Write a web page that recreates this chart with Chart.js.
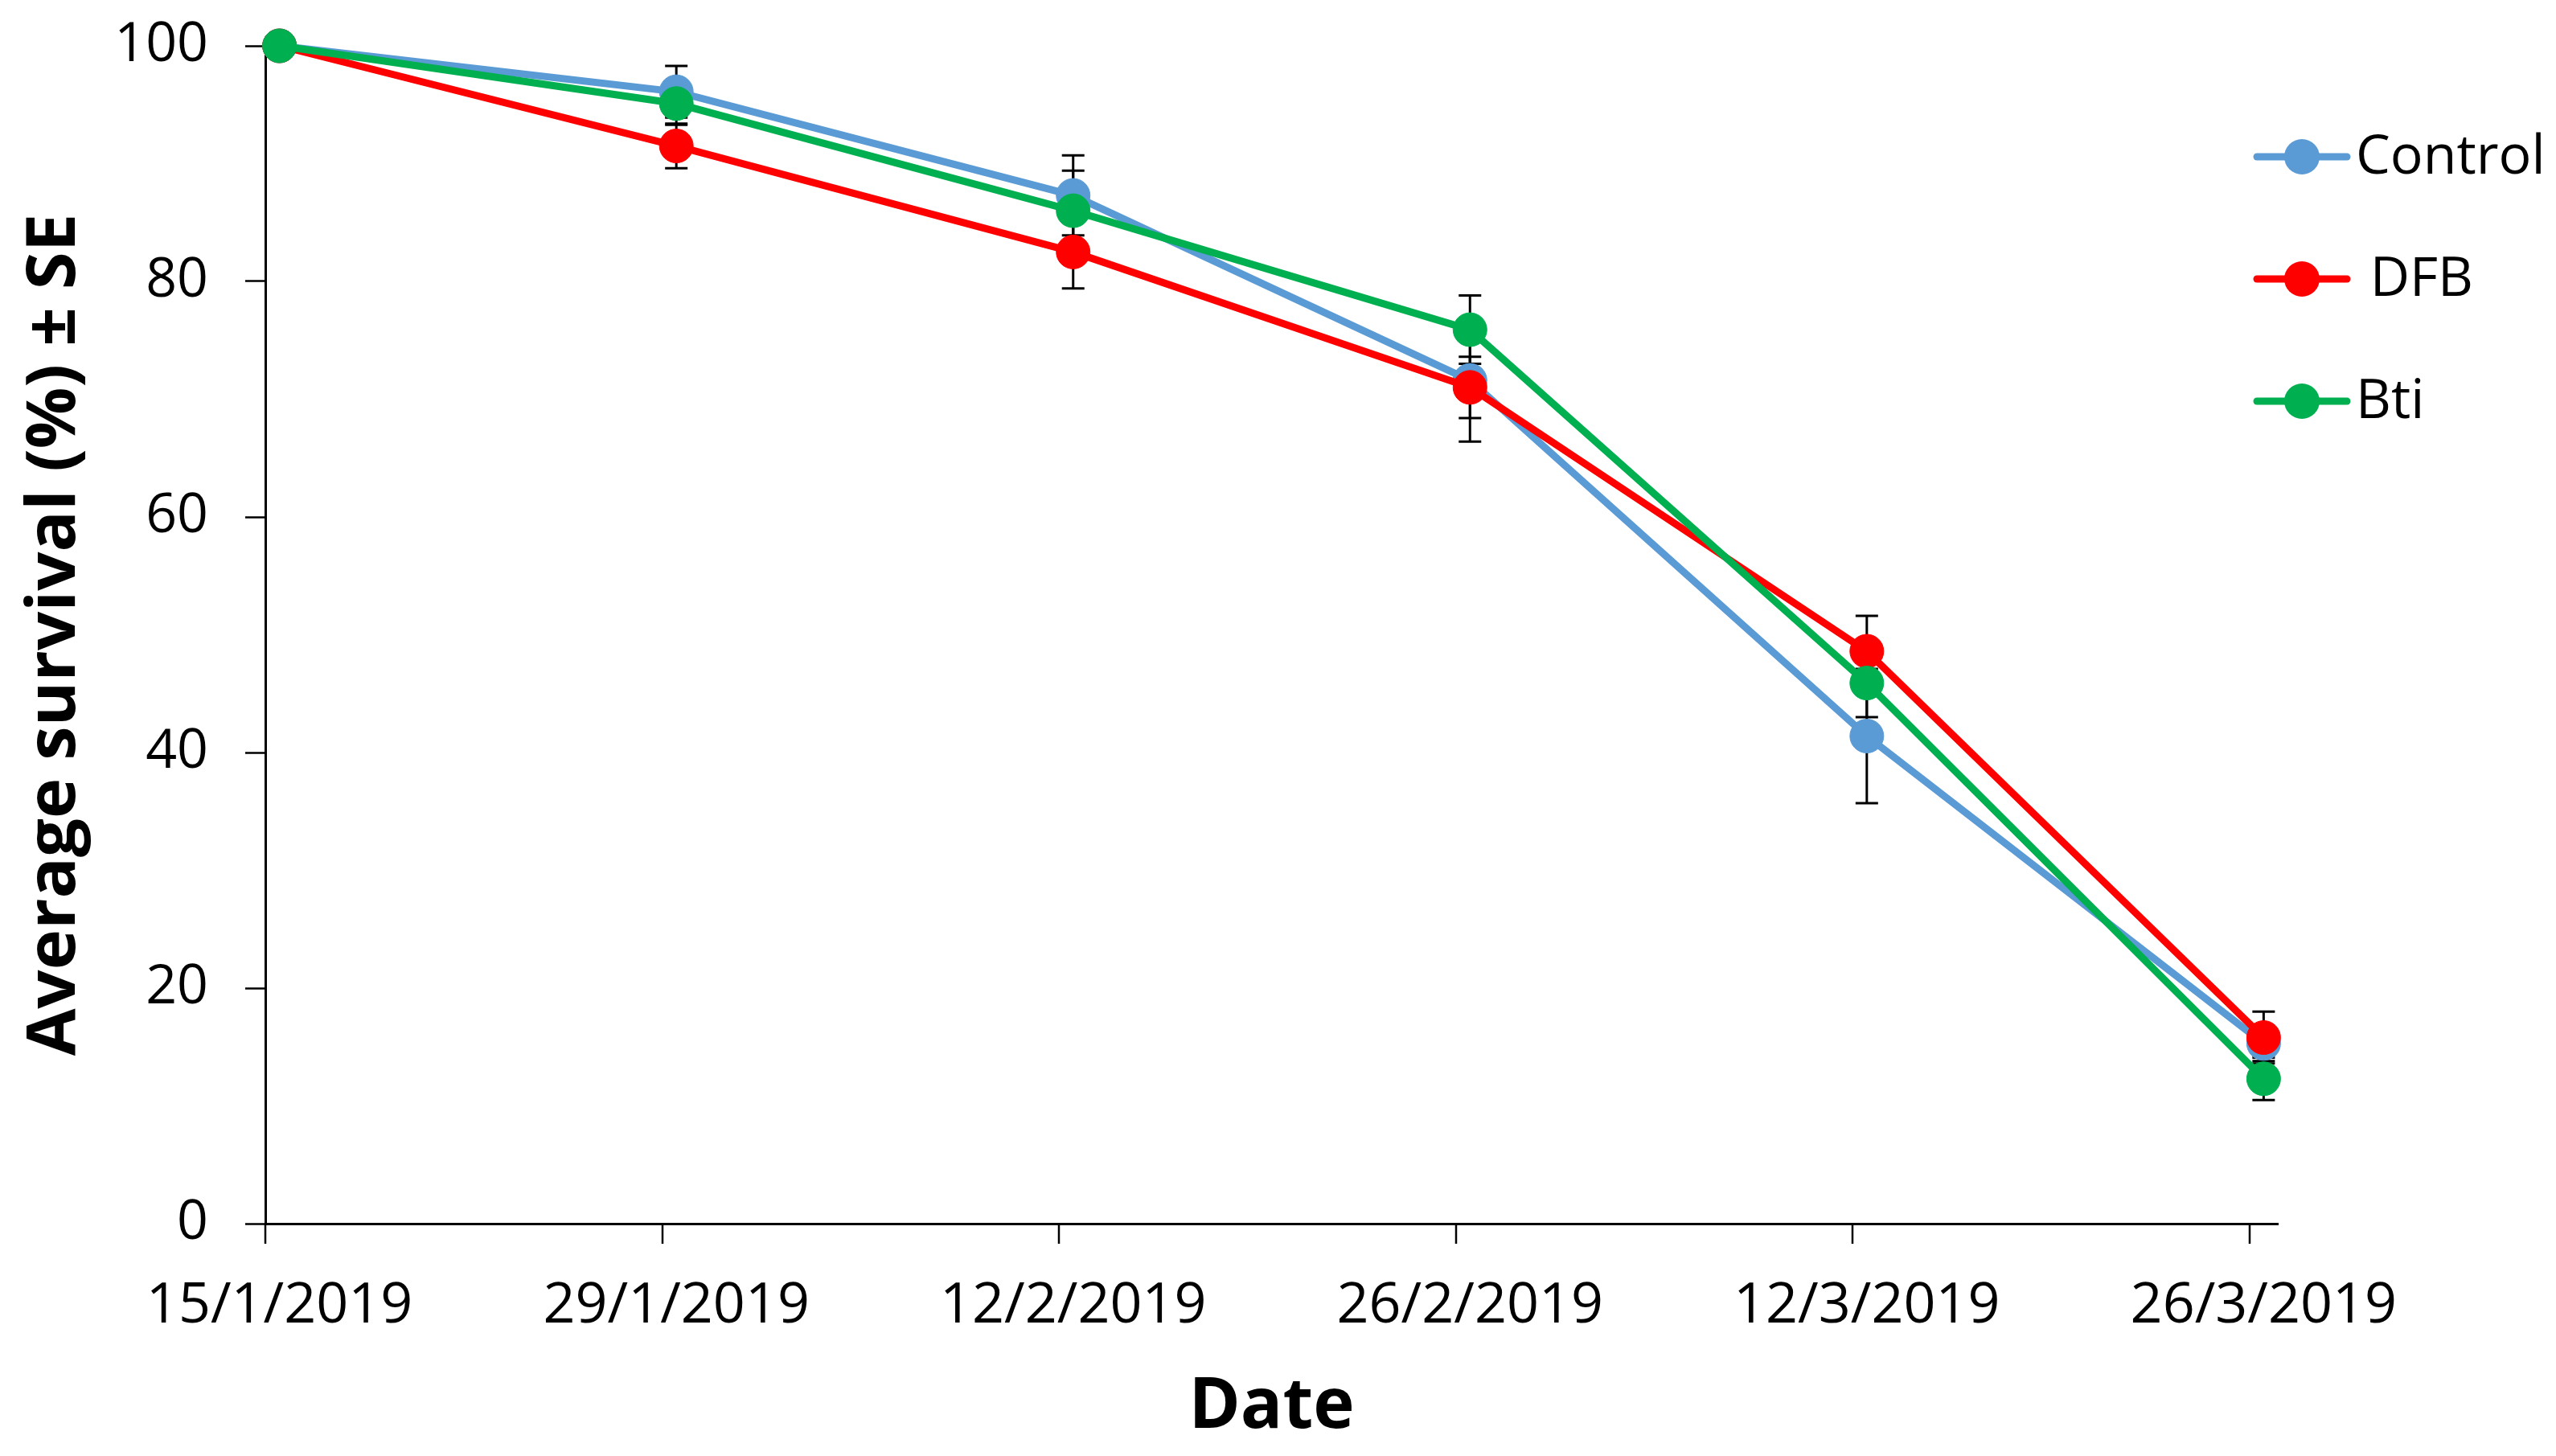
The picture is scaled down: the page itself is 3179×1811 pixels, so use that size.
<!DOCTYPE html>
<html><head><meta charset="utf-8">
<script src="https://cdn.jsdelivr.net/npm/chart.js@4.4.1/dist/chart.umd.min.js"></script>
<style>html,body{margin:0;padding:0;background:#fff;} canvas{display:block;}</style>
</head><body>
<canvas id="c" width="3179" height="1811"></canvas>
<script>
// ---- data ----
const categories = ['15/1/2019','29/1/2019','12/2/2019','26/2/2019','12/3/2019','26/3/2019'];
const dayOffsets = [0, 14, 28, 42, 56, 70];
const seriesNames = ['Control', ' DFB', 'Bti'];
const controlMean = [100, 96.1, 87.3, 71.6, 41.4, 15.3];
const controlSE   = [0, 2.2, 3.4, 5.2, 5.7, 1.5];
const dfbMean     = [100, 91.5, 82.5, 71.0, 48.6, 15.8];
const dfbSE       = [0, 1.9, 3.1, 2.6, 3.0, 2.2];
const btiMean     = [100, 95.1, 86.0, 75.9, 45.9, 12.3];
const btiSE       = [0, 1.8, 3.4, 2.9, 2.9, 1.8];
const yTickValues = [0, 20, 40, 60, 80, 100];
const seriesColors = ['#5B9BD5', '#FF0000', '#00B050'];

const means = [controlMean, dfbMean, btiMean];
const ses = [controlSE, dfbSE, btiSE];
const FONT = "'Open Sans', 'Noto Sans', sans-serif";

const datasets = means.map((m, i) => ({
  label: seriesNames[i],
  data: m.map((v, j) => ({ x: dayOffsets[j] + 0.5, y: v })),
  borderColor: seriesColors[i],
  backgroundColor: seriesColors[i],
  pointBackgroundColor: seriesColors[i],
  pointBorderColor: seriesColors[i],
  borderWidth: 9,
  pointRadius: 21,
  pointBorderWidth: 1,
  pointHoverRadius: 21,
  tension: 0,
  clip: false,
  order: 3 - i,
  se: ses[i]
}));

const errorBars = {
  id: 'errorBars',
  beforeDatasetsDraw(chart) {
    const ctx = chart.ctx, xs = chart.scales.x, ys = chart.scales.y;
    ctx.save();
    ctx.strokeStyle = '#000';
    ctx.lineWidth = 3;
    chart.data.datasets.forEach(ds => {
      ds.data.forEach((p, j) => {
        const se = ds.se[j];
        if (!se) return;
        const x = xs.getPixelForValue(p.x);
        const yt = ys.getPixelForValue(p.y + se);
        const yb = ys.getPixelForValue(p.y - se);
        ctx.beginPath();
        ctx.moveTo(x, yt); ctx.lineTo(x, yb);
        ctx.moveTo(x - 14, yt); ctx.lineTo(x + 14, yt);
        ctx.moveTo(x - 14, yb); ctx.lineTo(x + 14, yb);
        ctx.stroke();
      });
    });
    ctx.restore();
  }
};

const xTickMarks = {
  id: 'xTickMarks',
  afterDraw(chart) {
    const ctx = chart.ctx, xs = chart.scales.x, area = chart.chartArea;
    ctx.save();
    ctx.strokeStyle = '#000';
    ctx.lineWidth = 2.5;
    dayOffsets.forEach(d => {
      const x = Math.round(xs.getPixelForValue(d));
      ctx.beginPath();
      ctx.moveTo(x, area.bottom);
      ctx.lineTo(x, area.bottom + 25);
      ctx.stroke();
    });
    ctx.restore();
  }
};

const sideLegend = {
  id: 'sideLegend',
  afterDraw(chart) {
    const ctx = chart.ctx;
    const x0 = 2807, w = 112, y0 = 195, gap = 152;
    ctx.save();
    chart.data.datasets.forEach((ds, i) => {
      const y = y0 + i * gap;
      ctx.strokeStyle = ds.borderColor;
      ctx.lineWidth = 9;
      ctx.lineCap = 'round';
      ctx.beginPath();
      ctx.moveTo(x0, y); ctx.lineTo(x0 + w, y);
      ctx.stroke();
      ctx.fillStyle = ds.borderColor;
      ctx.beginPath();
      ctx.arc(x0 + w / 2, y, 22, 0, Math.PI * 2);
      ctx.fill();
      ctx.fillStyle = '#000';
      ctx.font = "68px " + FONT;
      ctx.textAlign = 'left';
      ctx.textBaseline = 'middle';
      ctx.fillText(ds.label, 2930, y + 2);
    });
    ctx.restore();
  }
};

new Chart(document.getElementById('c'), {
  type: 'line',
  data: { datasets },
  options: {
    responsive: false,
    animation: false,
    devicePixelRatio: 1,
    layout: { padding: { top: 57, right: 346, left: 0, bottom: 0 } },
    plugins: { legend: { display: false }, tooltip: { enabled: false } },
    scales: {
      x: {
        type: 'linear',
        min: 0,
        max: dayOffsets[dayOffsets.length - 1] + 1,
        afterBuildTicks: s => { s.ticks = dayOffsets.map(d => ({ value: d + 0.5 })); },
        afterFit: s => { s.height = 289; s.paddingLeft = 0; s.paddingRight = 0; },
        ticks: {
          autoSkip: false, maxRotation: 0, minRotation: 0,
          padding: 61,
          color: '#000',
          font: { family: FONT, size: 70 },
          callback: (v, i) => categories[i]
        },
        grid: { display: true, drawOnChartArea: false, drawTicks: false },
        border: { display: true, color: '#000', width: 3 },
        title: {
          display: true, text: 'Date', color: '#000',
          font: { family: FONT, size: 87, weight: 'bold' },
          padding: { top: 0, bottom: 8 }
        }
      },
      y: {
        min: 0, max: 100,
        afterBuildTicks: s => { s.ticks = yTickValues.map(v => ({ value: v })); },
        afterFit: s => { s.width = 330; s.paddingTop = 0; s.paddingBottom = 0; },
        ticks: {
          padding: 46, color: '#000',
          font: { family: FONT, size: 68 }
        },
        grid: { display: true, drawOnChartArea: false, drawTicks: true, tickLength: 25, tickWidth: 2.5, tickColor: '#000' },
        border: { display: true, color: '#000', width: 3 },
        title: {
          display: true, text: 'Average survival (%) ± SE', color: '#000',
          font: { family: FONT, size: 85, weight: 'bold' },
          padding: { top: 18, bottom: 0 }
        }
      }
    }
  },
  plugins: [errorBars, xTickMarks, sideLegend]
});
</script>
</body></html>
